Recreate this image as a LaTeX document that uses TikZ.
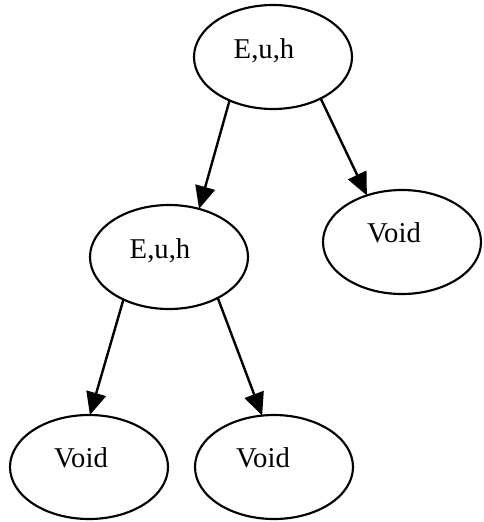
\documentclass[tikz,border=0pt]{standalone}
\usepackage{fontspec}
\setmainfont{Liberation Serif}
\usetikzlibrary{shapes.geometric,arrows.meta}
\begin{document}
\begin{tikzpicture}[x=0.75pt,y=-0.75pt,
  st/.style={draw, ellipse, line width=1.6pt, minimum width=118.5pt, minimum height=78pt, inner sep=0pt, outer sep=0pt},
  lab/.style={font=\fontsize{21.5}{25}\selectfont, inner sep=0pt},
  arr/.style={line width=1.8pt, -{Triangle[length=17pt,width=15pt]}}]
\useasboundingbox (0,0) rectangle (483,522);
\node[st, label={[lab, shift={(-9,-6)}]center:E,u,h}] (top) at (273,57) {};
\node[st, label={[lab, shift={(-9,-6)}]center:E,u,h}] (ml) at (169,257) {};
\node[st, label={[lab, shift={(-8,-9)}]center:Void}] (rv) at (402,242) {};
\node[st, label={[lab, shift={(-8,-9)}]center:Void}] (bl) at (89,467) {};
\node[st, label={[lab, shift={(-11,-9)}]center:Void}] (br) at (274,467) {};
\draw[arr] (top.225) -- (ml.58);
\draw[arr] (top.319) -- (rv.127);
\draw[arr] (ml.223) -- (bl.89);
\draw[arr] (ml.320) -- (br.103);
\end{tikzpicture}
\end{document}
